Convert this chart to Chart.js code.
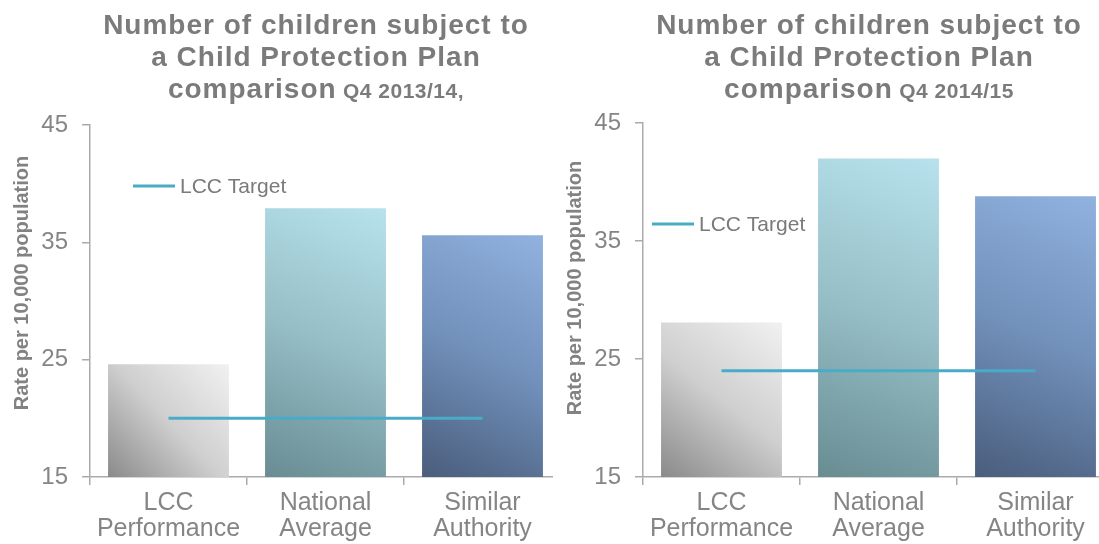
<!DOCTYPE html>
<html>
<head>
<meta charset="utf-8">
<title>Child Protection Plan comparison</title>
<script src="https://cdn.jsdelivr.net/npm/chart.js@4.4.1/dist/chart.umd.min.js"></script>
<style>
  html, body { margin: 0; padding: 0; background: #ffffff; width: 1099px; height: 544px; overflow: hidden;
    font-family: "Liberation Sans", Arial, sans-serif; }
  .panel { position: absolute; top: 0; height: 544px; overflow: hidden; }
  .panel canvas { position: absolute; left: 0; top: 0; }
  .title { position: absolute; top: 9px; left: 36px; width: 560px; text-align: center; font-weight: bold;
    font-size: 28px; line-height: 32px; color: #7b7b7b; letter-spacing: 1px; }
  .title .period { font-size: 21px; letter-spacing: 0.5px; }
</style>
</head>
<body>
<div class="panel" style="left:0; width:553px;">
  <canvas id="chart1314" width="561" height="544"></canvas>
  <div class="title" id="title1314"></div>
</div>
<div class="panel" style="left:553px; width:546px;">
  <canvas id="chart1415" width="561" height="544"></canvas>
  <div class="title" id="title1415"></div>
</div>
<script>
// Categories shown along the x axis (two-line labels)
const categories = [['LCC', 'Performance'], ['National', 'Average'], ['Similar', 'Authority']];

// Rate per 10,000 population, Q4 2013/14
const rates1314 = [24.6, 37.9, 35.6];
const target1314 = [20, 20, 20];

// Rate per 10,000 population, Q4 2014/15
const rates1415 = [28.1, 42.0, 38.8];
const target1415 = [24, 24, 24];

// Value axis ticks
const yTicks = [15, 25, 35, 45];

// Text
const titleLines = ['Number of children subject to', 'a Child Protection Plan', 'comparison'];
const period1314 = 'Q4 2013/14,';
const period1415 = 'Q4 2014/15';
const yAxisTitle = 'Rate per 10,000 population';
const targetLabel = 'LCC Target';

// Bar fill stops, dark bottom-left to light top-right
const barStops = [
  ['#8a8a8a', '#cfcfcf', '#f1f1f1'],
  ['#688c92', '#96bec6', '#b7e2ed'],
  ['#4a5d7c', '#7190ba', '#91b1df']
];

const FONT = '"Liberation Sans", Arial, sans-serif';
Chart.defaults.font.family = FONT;
Chart.defaults.color = '#858585';

function writeTitle(id, period) {
  const el = document.getElementById(id);
  el.innerHTML = '';
  titleLines.forEach((line, i) => {
    const div = document.createElement('div');
    div.textContent = line;
    if (i === titleLines.length - 1) {
      const span = document.createElement('span');
      span.className = 'period';
      span.textContent = ' ' + period;
      div.appendChild(span);
    }
    el.appendChild(div);
  });
}
writeTitle('title1314', period1314);
writeTitle('title1415', period1415);

function barFill(c) {
  const chart = c.chart;
  const stops = barStops[c.dataIndex % barStops.length];
  if (!chart.chartArea || c.type !== 'data') return stops[1];
  const xs = chart.scales.x, ys = chart.scales.y;
  const n = chart.data.labels.length;
  const half = (xs.width / n) * (c.dataset.barPercentage || 0.9) / 2;
  const cx = xs.getPixelForValue(c.dataIndex);
  const top = ys.getPixelForValue(c.raw);
  const bottom = ys.getPixelForValue(ys.min);
  const g = chart.ctx.createLinearGradient(cx - half, bottom, cx + half, top);
  stops.forEach((col, i) => g.addColorStop(i / (stops.length - 1), col));
  return g;
}

// Rotated value-axis caption
const sideTitle = {
  id: 'sideTitle',
  afterDraw(chart, args, opts) {
    const ctx = chart.ctx;
    ctx.save();
    ctx.translate(opts.x, opts.y);
    ctx.rotate(-Math.PI / 2);
    ctx.font = 'bold ' + opts.size + 'px ' + FONT;
    ctx.fillStyle = opts.color;
    ctx.textAlign = 'center';
    ctx.textBaseline = 'middle';
    ctx.fillText(opts.text, 0, 0);
    ctx.restore();
  }
};

// Legend entry for the target line, placed inside the plot area
const lineLegend = {
  id: 'lineLegend',
  afterDatasetsDraw(chart, args, opts) {
    const ds = chart.data.datasets.find(d => d.type === 'line');
    if (!ds) return;
    const a = chart.chartArea, ctx = chart.ctx;
    const x = a.left + opts.dx, y = a.top + opts.dy;
    ctx.save();
    ctx.strokeStyle = ds.borderColor;
    ctx.lineWidth = ds.borderWidth;
    ctx.beginPath();
    ctx.moveTo(x, y);
    ctx.lineTo(x + opts.lineLength, y);
    ctx.stroke();
    ctx.font = opts.size + 'px ' + FONT;
    ctx.fillStyle = opts.color;
    ctx.textAlign = 'left';
    ctx.textBaseline = 'middle';
    ctx.fillText(ds.label, x + opts.lineLength + opts.gap, y + 1);
    ctx.restore();
  }
};

function makeChart(id, rates, target, layoutTop, legendPos, titleY) {
  return new Chart(document.getElementById(id), {
    data: {
      labels: categories,
      datasets: [
        {
          type: 'line',
          label: targetLabel,
          data: target,
          borderColor: '#4aabc7',
          borderWidth: 3,
          pointRadius: 0,
          pointHoverRadius: 0,
          order: 0
        },
        {
          type: 'bar',
          label: 'Rate',
          data: rates,
          backgroundColor: barFill,
          borderWidth: 0,
          barPercentage: 0.77,
          categoryPercentage: 1.0,
          order: 1
        }
      ]
    },
    options: {
      responsive: false,
      animation: false,
      layout: { padding: { top: layoutTop, left: 0, right: 0, bottom: 0 } },
      plugins: {
        legend: { display: false },
        tooltip: { enabled: false },
        title: { display: false },
        sideTitle: { text: yAxisTitle, x: 22, y: titleY, size: 20, color: '#828282' },
        lineLegend: { dx: legendPos.dx, dy: legendPos.dy, lineLength: 42, gap: 5, size: 21, color: '#7a7a7a' }
      },
      scales: {
        x: {
          offset: true,
          afterFit(scale) { scale.height = 544 - 477; },
          grid: { offset: true, drawOnChartArea: false, drawTicks: true, tickLength: 8, color: '#ababab', lineWidth: 1.5 },
          border: { display: true, color: '#ababab', width: 1.5 },
          ticks: { color: '#858585', font: { size: 25, lineHeight: 1.04 }, padding: 5, maxRotation: 0, autoSkip: false }
        },
        y: {
          min: yTicks[0],
          max: yTicks[yTicks.length - 1],
          afterFit(scale) { scale.width = 90; },
          afterBuildTicks(scale) { scale.ticks = yTicks.map(v => ({ value: v })); },
          grid: { drawOnChartArea: false, drawTicks: true, tickLength: 8, color: '#ababab', lineWidth: 1.5 },
          border: { display: true, color: '#ababab', width: 1.5 },
          ticks: { color: '#858585', font: { size: 24 }, padding: 14 }
        }
      }
    },
    plugins: [sideTitle, lineLegend]
  });
}

makeChart('chart1314', rates1314, target1314, 125, { dx: 43, dy: 61 }, 283);
makeChart('chart1415', rates1415, target1415, 123, { dx: 9, dy: 101 }, 288);
</script>
</body>
</html>
